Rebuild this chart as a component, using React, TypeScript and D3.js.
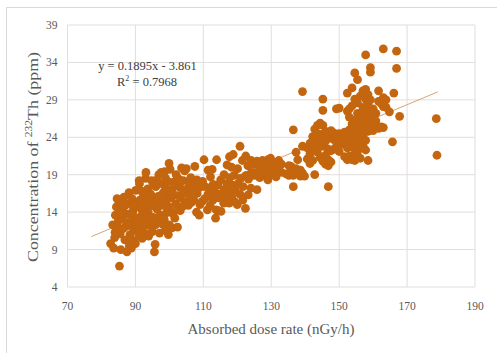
import React from "react";
import * as d3 from "d3";

// readings: [absorbed dose rate (nGy/h), 232Th (ppm)]
const lowDose: [number, number][] = [
  [82.7, 9.8], [83.3, 12.3], [83.6, 9.2], [84.1, 13.6], [83.9, 10.6], [84.4, 14.7],
  [84.8, 12.0], [85.3, 6.8], [85.1, 15.5], [85.7, 9.0], [85.5, 11.1], [86.0, 13.1],
  [86.3, 14.4], [86.6, 16.0], [86.9, 10.3], [87.2, 12.1], [87.5, 8.7], [87.8, 15.1],
  [87.6, 13.7], [88.2, 9.5], [88.4, 11.0], [88.1, 16.6], [88.9, 12.7], [89.3, 14.2],
  [89.0, 15.8], [89.6, 10.2], [89.9, 13.3], [90.3, 11.6], [90.1, 16.9], [90.6, 14.8],
  [90.8, 12.4], [91.2, 17.8], [91.4, 10.9], [91.3, 15.6], [91.9, 13.6], [92.1, 11.8],
  [92.4, 16.2], [92.2, 14.5], [92.7, 12.9], [93.0, 18.5], [93.1, 19.3], [93.3, 11.1],
  [93.5, 15.1], [93.8, 13.9], [93.6, 17.1], [94.2, 12.2], [94.5, 16.4], [94.3, 14.8],
  [94.8, 18.2], [95.0, 11.4], [95.3, 13.3], [95.6, 8.7], [95.5, 15.8], [95.8, 9.7],
  [96.0, 17.4], [96.2, 12.6], [96.4, 14.4], [96.7, 16.1], [96.9, 19.0], [97.1, 11.2],
  [97.3, 13.6], [97.5, 15.3], [97.7, 17.8], [98.0, 12.4], [98.2, 14.9], [98.4, 16.7],
  [98.6, 19.4], [98.8, 11.6], [99.1, 13.9], [99.3, 15.9], [99.5, 18.1], [99.7, 11.0],
  [99.9, 20.5], [100.1, 14.4], [100.3, 17.0], [100.2, 19.7],
  [84.0, 11.3], [85.0, 12.9], [85.8, 14.0], [86.4, 11.8], [87.0, 14.9], [87.9, 12.6],
  [88.6, 13.8], [88.7, 10.3], [89.4, 11.8], [89.8, 15.0], [90.5, 13.2], [90.9, 11.1],
  [91.6, 14.5], [91.8, 16.8], [92.5, 13.7], [92.9, 15.6], [93.2, 12.6], [94.0, 16.0],
  [94.6, 13.2], [95.1, 14.9], [95.9, 12.3], [96.5, 15.6], [97.0, 13.3], [97.9, 16.4],
  [98.5, 13.0], [99.0, 17.2], [99.6, 14.8], [100.5, 15.9], [100.0, 12.3], [93.9, 10.8],
  [92.0, 10.5], [90.0, 9.8], [88.8, 9.2], [84.6, 15.8], [86.1, 15.2], [91.1, 18.2],
  [96.3, 18.3], [97.6, 19.3], [95.2, 17.6], [98.9, 18.5],
];

const midDose: [number, number][] = [
  [100.8, 11.9], [101.0, 13.8], [100.9, 16.6], [101.2, 18.0],
  [101.6, 13.2], [101.9, 15.1], [101.7, 17.5], [102.0, 19.0],
  [102.4, 12.0], [102.6, 14.3], [102.5, 16.2], [102.8, 18.4],
  [103.2, 14.2], [103.4, 15.9], [103.1, 17.3], [103.6, 19.9],
  [104.0, 14.8], [104.3, 16.6], [104.1, 18.2], [104.5, 19.5],
  [104.9, 15.3], [105.2, 17.1], [105.0, 19.8],
  [105.6, 14.9], [105.9, 16.2], [105.8, 18.0],
  [106.5, 15.3], [106.7, 17.0], [106.3, 18.6],
  [107.2, 15.6], [107.4, 17.6], [107.5, 20.1],
  [108.0, 14.0], [108.2, 16.5], [108.1, 18.3],
  [108.8, 13.6], [109.0, 15.0], [108.9, 17.3],
  [109.6, 15.4], [109.8, 18.1], [110.2, 21.0], [110.4, 15.8], [110.5, 17.4],
  [111.2, 14.3], [111.4, 16.4], [111.4, 19.6],
  [112.0, 14.9], [112.2, 17.3], [112.1, 18.7],
  [112.8, 15.6], [112.9, 17.7], [112.6, 19.7],
  [113.6, 13.2], [113.8, 14.3], [113.5, 16.6], [113.9, 21.0],
  [114.4, 14.2], [114.6, 15.9], [114.3, 17.6],
  [115.2, 14.1], [115.4, 16.5], [115.1, 18.3],
  [116.0, 15.2], [116.2, 17.0], [116.1, 19.0],
  [116.8, 15.9], [116.9, 17.8], [117.0, 20.3],
  [117.6, 15.2], [117.5, 16.8], [117.8, 18.6], [117.7, 21.4],
  [118.4, 16.1], [118.5, 17.6], [118.3, 20.0], [118.8, 21.7],
  [119.2, 15.4], [119.4, 17.0], [119.1, 18.9],
  [120.0, 15.0], [120.2, 17.8], [120.1, 19.8],
  [120.8, 16.4], [121.0, 18.5], [120.8, 22.8],
  [121.6, 15.6], [121.7, 17.4], [121.5, 20.9],
  [122.4, 14.5], [122.6, 18.9], [122.5, 21.5],
  [123.2, 16.3], [123.3, 18.4], [123.1, 20.2],
  [124.0, 17.2], [124.2, 19.3], [124.1, 20.9],
];

const highDose: [number, number][] = [
  [125.0, 18.9], [125.0, 20.4], [125.8, 17.0], [125.8, 19.3], [125.8, 20.8],
  [126.6, 18.6], [126.6, 20.1], [127.4, 19.4], [127.4, 20.9], [128.2, 18.9], [128.2, 20.3],
  [129.0, 18.3], [129.0, 19.6], [129.0, 21.0], [129.8, 20.5], [129.8, 21.2],
  [130.6, 19.0], [130.6, 20.0], [131.4, 18.7], [131.4, 19.6], [131.4, 20.6],
  [132.2, 19.9], [132.2, 20.9], [133.0, 19.3], [133.0, 20.4], [134.4, 19.1],
  [135.2, 20.2], [135.2, 18.9], [135.8, 19.5], [135.8, 20.1],
  [136.5, 17.4], [136.5, 25.0], [136.5, 18.9], [137.3, 22.0], [137.3, 19.8], [137.8, 21.0],
  [138.6, 19.6], [138.6, 18.8], [139.2, 30.1], [139.2, 22.8], [139.2, 19.2], [139.8, 18.8],
  [140.6, 22.6], [140.6, 21.1], [141.4, 20.5], [141.4, 21.8], [141.4, 23.2],
  [142.2, 24.1], [142.2, 22.3], [142.2, 20.9], [142.8, 19.0], [142.8, 23.6], [142.8, 25.1],
  [143.6, 24.5], [143.6, 23.0], [143.6, 22.0], [143.6, 25.6],
  [144.4, 23.4], [144.4, 24.4], [144.4, 21.3], [144.4, 25.9],
  [145.2, 29.1], [145.2, 27.6], [145.2, 25.6], [145.2, 24.0], [145.2, 22.8], [145.2, 20.8],
  [146.0, 23.5], [146.0, 24.8], [146.0, 21.6], [146.0, 20.4],
  [146.8, 17.4], [146.8, 20.2], [146.8, 22.4], [146.8, 23.9], [146.8, 21.0],
  [147.6, 24.9], [147.6, 22.2], [147.6, 20.7], [148.4, 23.7], [148.4, 22.4], [148.4, 24.6],
  [149.2, 27.8], [149.2, 22.8], [149.2, 23.9], [150.0, 27.9], [150.0, 22.1], [150.0, 24.5],
  [150.8, 24.0], [150.8, 23.1], [151.6, 24.7], [151.6, 21.4], [151.6, 23.9],
  [152.4, 29.9], [152.4, 27.5], [152.4, 21.0], [152.4, 22.6], [152.4, 24.1],
  [153.0, 26.7], [153.0, 27.8], [153.0, 25.0], [153.0, 21.5], [153.0, 23.2],
  [153.8, 30.6], [153.8, 28.2], [153.8, 25.8], [153.8, 22.7], [153.8, 24.3], [153.8, 21.0],
  [154.6, 32.6], [154.6, 29.1], [154.6, 26.3], [154.6, 23.4], [154.6, 25.0], [154.6, 21.8], [154.6, 20.9],
  [155.4, 31.7], [155.4, 28.6], [155.4, 27.2], [155.4, 24.4], [155.4, 22.1], [155.4, 25.8], [155.4, 23.0],
  [156.2, 29.5], [156.2, 26.8], [156.2, 25.2], [156.2, 23.8], [156.2, 22.6], [156.2, 21.2],
  [157.0, 30.2], [157.0, 28.0], [157.0, 27.5], [157.0, 24.9], [157.0, 22.9], [157.0, 24.2], [157.0, 26.2],
  [157.8, 35.0], [157.8, 30.4], [157.8, 29.1], [157.8, 26.6], [157.8, 25.5], [157.8, 23.6], [157.8, 22.3],
  [158.5, 29.7], [158.5, 28.3], [158.5, 27.0], [158.5, 24.8], [158.5, 20.9],
  [159.2, 33.3], [159.2, 32.7], [159.2, 29.0], [159.2, 27.6], [159.2, 26.1], [159.2, 25.0],
  [160.0, 27.8], [160.0, 26.8], [160.0, 25.9], [160.0, 24.9], [160.8, 26.2], [160.8, 27.2],
  [161.6, 30.2], [161.6, 25.2], [161.6, 28.8], [162.4, 28.5], [162.4, 25.4],
  [163.0, 35.8], [163.0, 29.3], [163.0, 28.1], [163.0, 25.3], [163.8, 28.0], [163.8, 29.0],
  [164.8, 27.4], [165.7, 23.4], [166.1, 29.9], [166.9, 35.5], [166.9, 33.2], [167.8, 26.8],
  [178.6, 26.5], [178.8, 21.6],
];

const xTicks = [70, 90, 110, 130, 150, 170, 190];
const yTicks = [4, 9, 14, 19, 24, 29, 34, 39];
const slope = 0.1895;
const intercept = -3.861;
const trendRange = [77, 179];

const samples = [...lowDose, ...midDose, ...highDose];

const App = () => {
  const x = d3.scaleLinear().domain([70, 190]).range([67.5, 475]);
  const y = d3.scaleLinear().domain([4, 39]).range([287, 25]);
  const trend = d3
    .line<number>()
    .x(d => x(d))
    .y(d => y(slope * d + intercept));

  const serif = "'Liberation Serif', 'Times New Roman', serif";

  return (
    <svg
      width={497}
      height={353}
      style={{ position: "absolute", left: 0, top: 0, background: "#fff" }}
    >
      <rect x={6.5} y={7.5} width={500} height={350} fill="#fff" stroke="#d9d9d9" />

      <g stroke="#e2dedb" strokeWidth={1}>
        {xTicks.map(t => (
          <line key={"gx" + t} x1={x(t)} x2={x(t)} y1={y(4)} y2={y(39)} />
        ))}
        {yTicks.map(t => (
          <line key={"gy" + t} x1={x(70)} x2={x(190)} y1={y(t)} y2={y(t)} />
        ))}
      </g>

      <path d={trend(trendRange) || ""} fill="none" stroke="#d6a473" strokeWidth={1} />

      <g fill="#c4660f">
        {samples.map((d, i) => (
          <circle key={i} cx={x(d[0])} cy={y(d[1])} r={4.4} />
        ))}
      </g>

      <g fontFamily={serif} fontSize={11.5} fill="#595959">
        {yTicks.map(t => (
          <text key={"ty" + t} x={57.5} y={y(t)} dy="0.35em" textAnchor="end">
            {t}
          </text>
        ))}
        {xTicks.map(t => (
          <text key={"tx" + t} x={x(t)} y={310} textAnchor="middle">
            {t}
          </text>
        ))}
      </g>

      <g fontFamily={serif} fill="#404040" fontSize={12.5} textAnchor="middle">
        <text x={147.5} y={69.5}>y = 0.1895x - 3.861</text>
        <text x={147} y={86}>
          R<tspan fontSize={8} dy={-5}>2</tspan>
          <tspan dy={5}> = 0.7968</tspan>
        </text>
      </g>

      <text
        x={271}
        y={334}
        textAnchor="middle"
        fontFamily={serif}
        fontSize={15}
        fill="#595959"
      >
        Absorbed dose rate (nGy/h)
      </text>

      <text
        transform={`translate(38,157) rotate(-90)`}
        textAnchor="middle"
        fontFamily={serif}
        fontSize={15.5}
        fill="#595959"
        textLength={210}
        lengthAdjust="spacingAndGlyphs"
      >
        Concentration of <tspan fontSize={10} dy={-6}>232</tspan>
        <tspan dy={6}>Th (ppm)</tspan>
      </text>
    </svg>
  );
};

export default App;
